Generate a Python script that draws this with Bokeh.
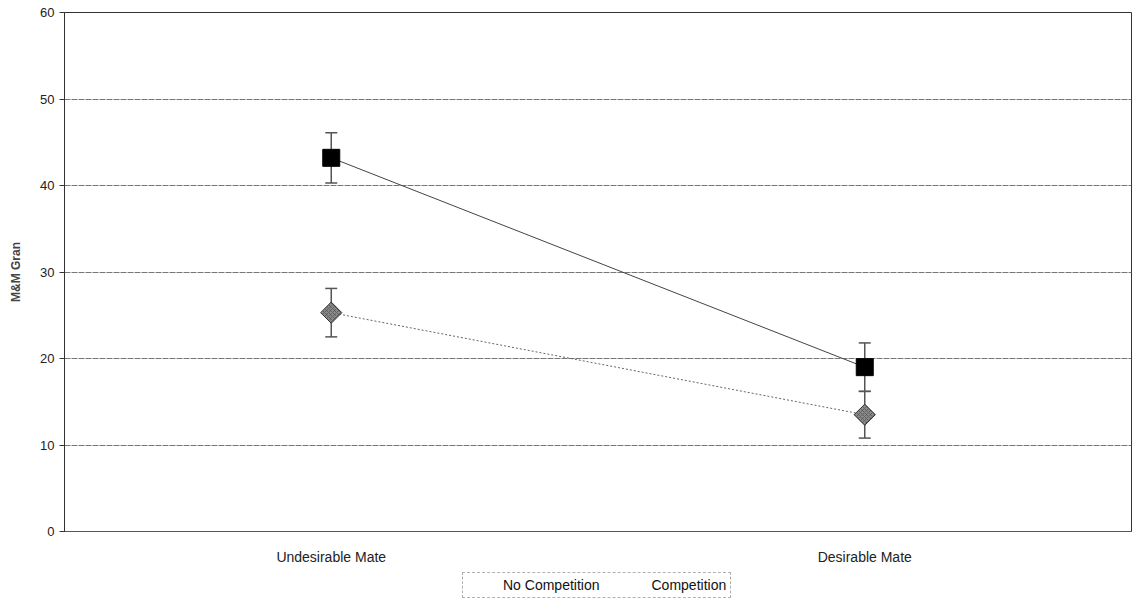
import math
from bokeh.plotting import figure
from bokeh.layouts import column
from bokeh.models import ColumnDataSource, Whisker, Legend, LegendItem, SingleIntervalTicker, Range1d
from bokeh.embed import file_html
from bokeh.resources import INLINE

categories = ["Undesirable Mate", "Desirable Mate"]
no_comp = [43.2, 19.0]
no_comp_err = [2.9, 2.8]
comp = [25.3, 13.5]
comp_err = [2.8, 2.7]
series_names = ["No Competition", "Competition"]

FONT = "Liberation Sans"

# styles
sq_style = dict(marker="square", size=17, fill_color="black", line_color="black")
di_style = dict(marker="square", angle=math.pi / 4, size=15, fill_color="#8a8a8a",
                line_color="#333333", line_width=1, hatch_pattern="x", hatch_color="#444444",
                hatch_scale=4, hatch_weight=0.6)
l1_style = dict(line_color="#444444", line_width=1)
l2_style = dict(line_color="#666666", line_width=1, line_dash="2 2")

p = figure(x_range=categories, y_range=(0, 60), output_backend="svg", toolbar_location=None,
           width=1132, height=567, min_border_left=64, min_border_top=12,
           min_border_right=1, min_border_bottom=36)
p.background_fill_color = "white"
p.outline_line_color = "#333333"
p.outline_line_width = 1

src1 = ColumnDataSource(dict(x=categories, y=no_comp,
                             lo=[v - e for v, e in zip(no_comp, no_comp_err)],
                             hi=[v + e for v, e in zip(no_comp, no_comp_err)]))
src2 = ColumnDataSource(dict(x=categories, y=comp,
                             lo=[v - e for v, e in zip(comp, comp_err)],
                             hi=[v + e for v, e in zip(comp, comp_err)]))

for s in (src1, src2):
    w = Whisker(source=s, base="x", lower="lo", upper="hi", line_color="#555555", line_width=1.5)
    w.upper_head.size = 12
    w.lower_head.size = 12
    w.upper_head.line_color = "#555555"
    w.lower_head.line_color = "#555555"
    w.upper_head.line_width = 1.5
    w.lower_head.line_width = 1.5
    p.add_layout(w)

p.line("x", "y", source=src1, **l1_style)
p.scatter("x", "y", source=src1, **sq_style)
p.line("x", "y", source=src2, **l2_style)
p.scatter("x", "y", source=src2, **di_style)

p.yaxis.ticker = SingleIntervalTicker(interval=10)
p.yaxis.minor_tick_line_color = None
p.yaxis.axis_label = "M&M Gran"
p.yaxis.axis_label_text_font = FONT
p.yaxis.axis_label_text_font_style = "bold"
p.yaxis.axis_label_text_font_size = "12px"
p.yaxis.axis_label_standoff = 14
p.yaxis.major_label_text_font = FONT
p.yaxis.major_label_text_font_size = "13px"
p.yaxis.major_label_text_color = "#222222"
p.yaxis.axis_line_color = "#333333"
p.yaxis.major_tick_line_color = "#333333"
p.yaxis.major_tick_out = 5
p.yaxis.major_tick_in = 0

p.xaxis.major_label_text_font = FONT
p.xaxis.major_label_text_font_size = "14px"
p.xaxis.major_label_text_color = "#222222"
p.xaxis.axis_line_color = "#555555"
p.xaxis.major_tick_line_color = None
p.xaxis.minor_tick_line_color = None
p.xaxis.major_label_standoff = 11

p.xgrid.grid_line_color = None
p.ygrid.grid_line_color = "#777777"
p.ygrid.grid_line_width = 1
p.ygrid.grid_line_dash = "6 1"

# legend strip below the chart
lg = figure(width=1132, height=39, output_backend="svg", toolbar_location=None,
            x_range=Range1d(0, 1), y_range=Range1d(0, 1), min_border=0,
            x_axis_type=None, y_axis_type=None, title=None)
lg.grid.grid_line_color = None
lg.outline_line_color = None
empty = dict(x=[], y=[])
r1 = [lg.line("x", "y", source=ColumnDataSource(empty), **l1_style),
      lg.scatter("x", "y", source=ColumnDataSource(empty), **dict(sq_style, size=9))]
r2 = [lg.line("x", "y", source=ColumnDataSource(empty), **l2_style),
      lg.scatter("x", "y", source=ColumnDataSource(empty), **dict(di_style, size=8))]
legend = Legend(items=[LegendItem(label=series_names[0], renderers=r1),
                       LegendItem(label=series_names[1], renderers=r2)],
                orientation="horizontal", location=(398, 8))
legend.label_text_font = FONT
legend.label_text_font_size = "14px"
legend.label_text_color = "#111111"
legend.border_line_color = "#666666"
legend.border_line_dash = "3 1"
legend.glyph_width = 32
legend.glyph_height = 14
legend.spacing = 16
legend.padding = 4
legend.margin = 0
legend.label_standoff = 4
lg.add_layout(legend, "center")

layout = column(p, lg, spacing=0)
open("out.html", "w").write(file_html(layout, INLINE))
